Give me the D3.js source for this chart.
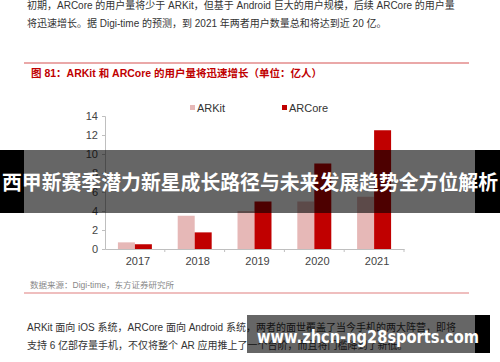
<!DOCTYPE html>
<meta charset="utf-8">
<style>
body { margin: 0; background: #fff; }
svg { display: block; }
text { font-family: "Liberation Sans", "Noto Sans CJK SC", sans-serif; }
.para { font-size: 10px; fill: #333; }
.axis text { font-size: 11px; fill: #444; }
.axis path, .axis line { stroke: #bfbfbf; }
.banner { font-family: "Noto Sans CJK SC", sans-serif; font-weight: bold; fill: #fff; }
</style>
<svg width="500" height="362"></svg>
<script src="https://d3js.org/d3.v7.min.js"></script>
<script>

var years = ["2017", "2018", "2019", "2020", "2021"];
var series = ["ARKit", "ARCore"];
var arkit = [0.7, 3.5, 4.0, 5.0, 5.5];
var arcore = [0.5, 1.75, 5.0, 9.0, 12.5];
var yTicks = [0, 2, 4, 6, 8, 10, 12, 14];
var colors = ["#e6b8b7", "#c00000"];

var svg = d3.select("svg");

// text above the figure
svg.append("text").attr("class", "para").attr("x", 27).attr("y", 9)
  .text("初期，ARCore 的用户量将少于 ARKit，但基于 Android 巨大的用户规模，后续 ARCore 的用户量");
svg.append("text").attr("class", "para").attr("x", 27).attr("y", 27)
  .text("将迅速增长。据 Digi-time 的预测，到 2021 年两者用户数量总和将达到近 20 亿。");

svg.append("line").attr("x1", 24).attr("x2", 469).attr("y1", 63).attr("y2", 63)
  .style("stroke", "#eaa8a8").style("stroke-width", 2);
svg.append("text").attr("x", 31).attr("y", 77)
  .style("font-size", "10.5px").style("font-weight", "bold").style("fill", "#c00000")
  .text("图 81：ARKit 和 ARCore 的用户量将迅速增长（单位：亿人）");

var x0 = d3.scaleBand().domain(years).range([105, 404]);
var x1 = d3.scaleBand().domain(series).range([0, x0.bandwidth()]).paddingOuter(0.76);
var y = d3.scaleLinear().domain([0, 14]).range([249, 116]);

// bars
var rows = years.map(function(yr, i) { return {year: yr, vals: [arkit[i], arcore[i]]}; });
var g = svg.append("g");
g.selectAll("g").data(rows).enter().append("g")
    .attr("transform", function(d) { return "translate(" + x0(d.year) + ",0)"; })
  .selectAll("rect")
  .data(function(d) { return d.vals.map(function(v, j) { return {s: series[j], v: v, c: colors[j]}; }); })
  .enter().append("rect")
    .attr("x", function(d) { return x1(d.s); })
    .attr("width", x1.bandwidth())
    .attr("y", function(d) { return y(d.v); })
    .attr("height", function(d) { return y(0) - y(d.v); })
    .attr("fill", function(d) { return d.c; });

// y axis
svg.append("g").attr("class", "axis")
  .attr("transform", "translate(105,0)")
  .call(d3.axisLeft(y).tickValues(yTicks).tickSize(3).tickPadding(4));

// x axis
var xa = svg.append("g").attr("class", "axis").attr("transform", "translate(0,249)");
xa.call(d3.axisBottom(x0).tickSize(0).tickPadding(8));
xa.selectAll(".tick text").attr("dx", 3);
xa.selectAll("line.sep").data(years.slice(1).concat(["end"])).enter().append("line")
  .attr("class", "sep")
  .attr("x1", function(d) { return d === "end" ? x0.range()[1] : x0(d); })
  .attr("x2", function(d) { return d === "end" ? x0.range()[1] : x0(d); })
  .attr("y1", 0).attr("y2", 3);

// legend
var leg = svg.append("g").selectAll("g").data(series).enter().append("g")
  .attr("transform", function(d, i) { return "translate(" + (190 + i * 92) + ",108)"; });
leg.append("rect").attr("x", 0).attr("y", -3).attr("width", 5).attr("height", 5)
  .attr("fill", function(d, i) { return colors[i]; });
leg.append("text").attr("x", 7).attr("y", 4).style("font-size", "11px").style("fill", "#333")
  .text(function(d) { return d; });

// source
svg.append("text").attr("x", 30).attr("y", 288)
  .style("font-size", "8.5px").style("fill", "#888")
  .text("数据来源：Digi-time，东方证券研究所");
svg.append("line").attr("x1", 24).attr("x2", 469).attr("y1", 293).attr("y2", 293)
  .style("stroke", "#eaa8a8").style("stroke-width", 1.5);

// text below the figure
svg.append("text").attr("class", "para").attr("x", 27).attr("y", 331)
  .text("ARKit 面向 iOS 系统，ARCore 面向 Android 系统，两者的面世覆盖了当今手机的两大阵营，即将");
svg.append("text").attr("class", "para").attr("x", 27).attr("y", 349)
  .text("支持 6 亿部存量手机，不仅将整个 AR 应用推上了一个台阶，而且将门槛降到了新低。");

// banner overlay
svg.append("rect").attr("x", 0).attr("y", 150).attr("width", 24).attr("height", 63).attr("fill", "#000");
svg.append("rect").attr("x", 475).attr("y", 150).attr("width", 25).attr("height", 63).attr("fill", "#000");
svg.append("rect").attr("x", 24).attr("y", 150).attr("width", 451).attr("height", 63)
  .attr("fill", "#000").attr("fill-opacity", 0.6);
svg.append("text").attr("class", "banner").attr("x", 250).attr("y", 190)
  .attr("text-anchor", "middle").style("font-size", "20.5px")
  .attr("textLength", 496).attr("lengthAdjust", "spacingAndGlyphs")
  .text("西甲新赛季潜力新星成长路径与未来发展趋势全方位解析");

// watermark overlay
svg.append("rect").attr("x", 475).attr("y", 315).attr("width", 15).attr("height", 38).attr("fill", "#000");
svg.append("rect").attr("x", 247).attr("y", 315).attr("width", 228).attr("height", 38)
  .attr("fill", "#000").attr("fill-opacity", 0.6);
svg.append("text").attr("class", "banner").attr("x", 368).attr("y", 343)
  .attr("text-anchor", "middle").style("font-size", "17px")
  .style("font-family", "'DejaVu Sans', sans-serif")
  .attr("textLength", 222).attr("lengthAdjust", "spacingAndGlyphs")
  .text("www.zhcn-ng28sports.com");
</script>
